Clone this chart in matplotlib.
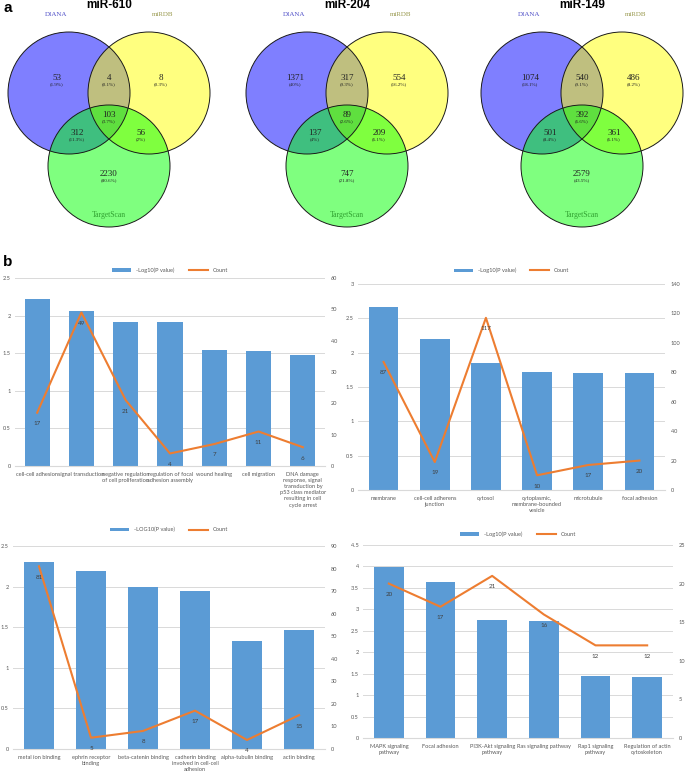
"""Figure: (a) Venn diagrams of predicted targets for three miRNAs,
(b) GO / KEGG enrichment bar + line combo charts."""

import matplotlib
matplotlib.use("Agg")
import matplotlib.pyplot as plt
import numpy as np
from matplotlib.lines import Line2D
from matplotlib.patches import Circle, Patch

# ---------------------------------------------------------------------------
# data
# ---------------------------------------------------------------------------
MIRNAS = ["miR-610", "miR-204", "miR-149"]
# region order: DIANA only, DIANA&miRDB, miRDB only, all three,
#               DIANA&TargetScan, miRDB&TargetScan, TargetScan only
VENN_COUNTS = [
    [53, 4, 8, 103, 312, 56, 2230],
    [1371, 317, 554, 89, 137, 209, 747],
    [1074, 540, 486, 392, 501, 361, 2579],
]
VENN_PERCENTS = [
    ["1.9%", "0.1%", "0.3%", "3.7%", "11.3%", "2%", "80.6%"],
    ["40%", "9.3%", "16.2%", "2.6%", "4%", "6.1%", "21.8%"],
    ["18.1%", "9.1%", "8.2%", "6.6%", "8.4%", "6.1%", "43.5%"],
]

BP_TERMS = ["cell-cell adhesion", "signal transduction",
            "negative regulation\nof cell proliferation",
            "regulation of focal\nadhesion assembly", "wound healing",
            "cell migration",
            "DNA damage\nresponse, signal\ntransduction by\np53 class mediator\n"
            "resulting in cell\ncycle arrest"]
BP_LOGP = [2.22, 2.06, 1.91, 1.91, 1.54, 1.53, 1.47]
BP_COUNT = [17, 49, 21, 4, 7, 11, 6]

CC_TERMS = ["membrane", "cell-cell adherens\njunction", "cytosol",
            "cytoplasmic,\nmembrane-bounded\nvesicle", "microtubule",
            "focal adhesion"]
CC_LOGP = [2.67, 2.20, 1.85, 1.72, 1.71, 1.70]
CC_COUNT = [87, 19, 117, 10, 17, 20]

MF_TERMS = ["metal ion binding", "ephrin receptor\nbinding",
            "beta-catenin binding",
            "cadherin binding\ninvolved in cell-cell\nadhesion",
            "alpha-tubulin binding", "actin binding"]
MF_LOGP = [2.30, 2.19, 2.00, 1.94, 1.33, 1.47]
MF_COUNT = [81, 5, 8, 17, 4, 15]

KEGG_TERMS = ["MAPK signaling\npathway", "Focal adhesion",
              "PI3K-Akt signaling\npathway", "Ras signaling pathway",
              "Rap1 signaling\npathway", "Regulation of actin\ncytoskeleton"]
KEGG_LOGP = [3.98, 3.64, 2.75, 2.73, 1.45, 1.43]
KEGG_COUNT = [20, 17, 21, 16, 12, 12]

# ---------------------------------------------------------------------------
# style
# ---------------------------------------------------------------------------
W, H = 685, 776
BAR_BLUE = "#5B9BD5"
LINE_ORANGE = "#ED7D31"
GRID = "#D9D9D9"
TICK_GREY = "#595959"
SANS = "Liberation Sans"
SERIF = "Liberation Serif"
CHART_FONT = "Lato"
CHART_SIZE = 4.1

fig = plt.figure(figsize=(W / 100, H / 100), dpi=100)

# ---------------------------------------------------------------------------
# (a) Venn diagrams, drawn in pixel coordinates
# ---------------------------------------------------------------------------
VENN_H = 235
vax = fig.add_axes([0, 1 - VENN_H / H, 1, VENN_H / H])
vax.set_xlim(0, W)
vax.set_ylim(VENN_H, 0)
vax.axis("off")

RADIUS = 61
CENTERS_X = [109, 347, 582]
CY = 93
# label offsets of each region relative to (centre x, CY)
REGION_OFFSETS = [(-52, -15), (0, -15), (52, -15), (0, 22),
                  (-32, 40), (32, 40), (0, 81)]

for cx, name, counts, percents in zip(CENTERS_X, MIRNAS, VENN_COUNTS,
                                      VENN_PERCENTS):
    for (dx, dy), color in [((-40, 0), "#0000FF"), ((40, 0), "#FFFF00"),
                            ((0, 73), "#00FF00")]:
        vax.add_patch(Circle((cx + dx, CY + dy), RADIUS, facecolor=color,
                             alpha=0.5, edgecolor="none"))
    for dx, dy in [(-40, 0), (40, 0), (0, 73)]:
        vax.add_patch(Circle((cx + dx, CY + dy), RADIUS, facecolor="none",
                             edgecolor="#1a1a1a", linewidth=0.7))
    for (dx, dy), n, p in zip(REGION_OFFSETS, counts, percents):
        vax.text(cx + dx, CY + dy, str(n), ha="center", va="center",
                 fontsize=6.5, family=SERIF, color="#222222")
        vax.text(cx + dx, CY + dy + 6, f"({p})", ha="center", va="center",
                 fontsize=3.6, family=SERIF, color="#222222")
    vax.text(cx, 5, name, ha="center", va="center", fontsize=8.5,
             weight="bold", family=SANS)
    vax.text(cx - 53, 14, "DIANA", ha="center", va="center", fontsize=5,
             family=SERIF, color="#5050C8")
    vax.text(cx + 54, 14, "miRDB", ha="center", va="center", fontsize=5,
             family=SERIF, color="#9A9A50")
    vax.text(cx, 215, "TargetScan", ha="center", va="center", fontsize=5.5,
             family=SERIF, color="#30A030")

vax.text(8, 8, "a", ha="center", va="center", fontsize=11, weight="bold",
         family=SANS)
fig.text(8 / W, 1 - 262 / H, "b", ha="center", va="center", fontsize=11,
         weight="bold", family=SANS)


# ---------------------------------------------------------------------------
# (b) bar + line combo charts
# ---------------------------------------------------------------------------
def px_rect(left, top, right, bottom):
    return [left / W, 1 - bottom / H, (right - left) / W, (bottom - top) / H]


def fmt(v):
    return f"{v:g}"


def combo(rect, terms, logp, counts, ymax, ystep, y2max, y2step,
          legend_y, legend_text, bar_width):
    ax = fig.add_axes(rect)
    x = np.arange(len(terms))
    ax.bar(x, logp, width=bar_width, color=BAR_BLUE, zorder=2)
    ax.set_xlim(-0.5, len(terms) - 0.5)
    ax.set_ylim(0, ymax)
    yt = np.arange(0, ymax + 1e-9, ystep)
    ax.set_yticks(yt)
    ax.set_yticklabels([fmt(round(v, 2)) for v in yt])
    ax.set_xticks(x)
    ax.set_xticklabels(terms, linespacing=1.3)
    ax.grid(axis="y", color=GRID, linewidth=0.7, zorder=0)
    ax.set_axisbelow(True)
    for side in ["top", "left", "right"]:
        ax.spines[side].set_visible(False)
    ax.spines["bottom"].set_color(GRID)
    ax.tick_params(axis="x", length=0, labelsize=CHART_SIZE,
                   colors=TICK_GREY, pad=4)
    ax.tick_params(axis="y", length=0, labelsize=CHART_SIZE,
                   colors=TICK_GREY, pad=3)
    for lab in ax.get_xticklabels() + ax.get_yticklabels():
        lab.set_family(CHART_FONT)

    ax2 = ax.twinx()
    ax2.plot(x, counts, color=LINE_ORANGE, linewidth=1.5, zorder=3)
    ax2.set_ylim(0, y2max)
    yt2 = np.arange(0, y2max + 1e-9, y2step)
    ax2.set_yticks(yt2)
    ax2.set_yticklabels([fmt(v) for v in yt2])
    for side in ax2.spines:
        ax2.spines[side].set_visible(False)
    ax2.tick_params(length=0, labelsize=CHART_SIZE, colors=TICK_GREY, pad=4)
    for lab in ax2.get_yticklabels():
        lab.set_family(CHART_FONT)
    for xi, c in zip(x, counts):
        ax2.annotate(str(c), (xi, c), xytext=(0, -6),
                     textcoords="offset points", ha="center", va="top",
                     fontsize=4.5, color="#404040", family=CHART_FONT)

    handles = [Patch(facecolor=BAR_BLUE, edgecolor="none"),
               Line2D([], [], color=LINE_ORANGE, linewidth=1.5)]
    ax.legend(handles, [legend_text, "Count"], loc="center",
              bbox_to_anchor=(0.5, legend_y), ncol=2, frameon=False,
              prop={"family": CHART_FONT, "size": 4.1},
              labelcolor=TICK_GREY, handlelength=3.4, handleheight=0.6,
              columnspacing=2.5)
    return ax


combo(px_rect(15, 278, 325, 466), BP_TERMS, BP_LOGP, BP_COUNT,
      2.5, 0.5, 60, 10, 1.04, "-Log10(P value)", 0.57)
combo(px_rect(358, 284, 665, 490), CC_TERMS, CC_LOGP, CC_COUNT,
      3.0, 0.5, 140, 20, 1.065, "-Log10(P value)", 0.58)
combo(px_rect(13, 546, 325, 749), MF_TERMS, MF_LOGP, MF_COUNT,
      2.5, 0.5, 90, 10, 1.08, "-LOG10(P value)", 0.58)
combo(px_rect(363, 545, 673, 738), KEGG_TERMS, KEGG_LOGP, KEGG_COUNT,
      4.5, 0.5, 25, 5, 1.057, "-Log10(P value)", 0.58)

fig.savefig("out.png", dpi=100, facecolor="white")
